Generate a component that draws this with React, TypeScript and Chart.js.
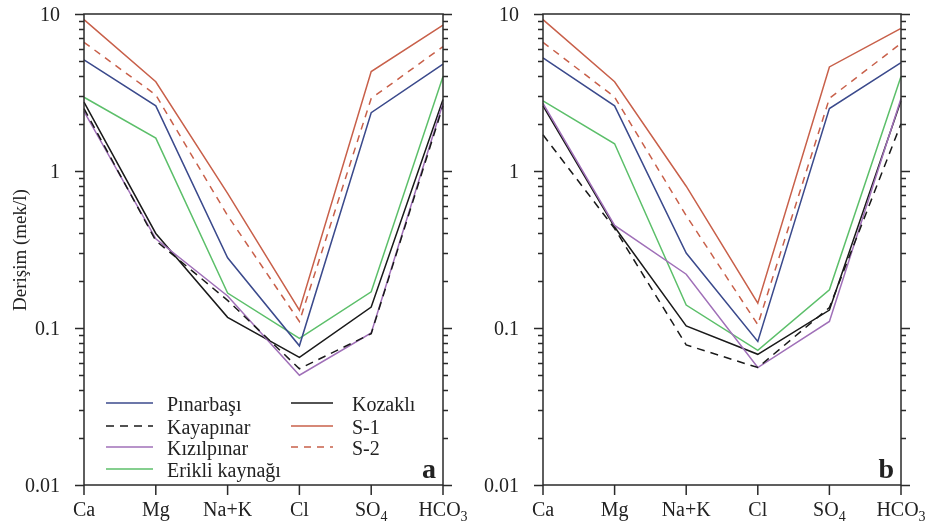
import React, { useEffect, useRef, useState } from 'react';
import { Chart, registerables } from 'chart.js';

Chart.register(...registerables);

const FONT = "'Liberation Serif', serif";

// Categories (ions) and their printed labels (main part + subscript)
const categories = ['Ca', 'Mg', 'Na+K', 'Cl', 'SO4', 'HCO3'];
const labelMain = ['Ca', 'Mg', 'Na+K', 'Cl', 'SO', 'HCO'];
const labelSub = ['', '', '', '', '4', '3'];

// Y ticks (log scale decades)
const yTicks = [0.01, 0.1, 1, 10];
const yTickLabels = ['0.01', '0.1', '1', '10'];

// Series names
const seriesNames = ['Pınarbaşı', 'Kayapınar', 'Kızılpınar', 'Erikli kaynağı', 'Kozaklı', 'S-1', 'S-2'];

// Panel a values (mek/l)
const pinarbasiA = [5.1, 2.6, 0.28, 0.077, 2.35, 4.8];
const kayapinarA = [2.5, 0.36, 0.15, 0.055, 0.092, 2.6];
const kizilpinarA = [2.4, 0.37, 0.16, 0.05, 0.093, 2.7];
const erikliA = [2.95, 1.62, 0.167, 0.086, 0.17, 4.0];
const kozakliA = [2.75, 0.4, 0.117, 0.065, 0.136, 2.85];
const s1A = [9.2, 3.7, 0.72, 0.13, 4.3, 8.5];
const s2A = [6.6, 3.05, 0.52, 0.11, 2.9, 6.2];

// Panel b values (mek/l)
const pinarbasiB = [5.25, 2.6, 0.3, 0.082, 2.5, 4.9];
const kayapinarB = [1.7, 0.43, 0.078, 0.056, 0.135, 2.0];
const kizilpinarB = [2.7, 0.45, 0.22, 0.056, 0.11, 2.9];
const erikliB = [2.8, 1.49, 0.14, 0.072, 0.175, 4.0];
const kozakliB = [2.6, 0.44, 0.103, 0.068, 0.13, 2.8];
const s1B = [9.2, 3.7, 0.8, 0.144, 4.6, 8.1];
const s2B = [6.6, 2.96, 0.52, 0.105, 2.9, 6.5];

const seriesColors = ['#3b4a8c', '#1a1a1a', '#a070b8', '#5cbf6a', '#1a1a1a', '#c8604a', '#c8604a'];
const seriesDash: number[][] = [[], [8, 6], [], [], [], [], [7, 6]];

const legendCol1 = [0, 1, 2, 3];
const legendCol2 = [4, 5, 6];
const legendRows = [403, 426, 447, 469];

function makePlugin(letter: string, showLegend: boolean) {
  return {
    id: 'frame-' + letter,
    afterDraw(chart: any) {
      const { ctx, chartArea } = chart;
      const { left, right, top, bottom } = chartArea;
      const x = chart.scales.x;
      const y = chart.scales.y;
      ctx.save();
      ctx.strokeStyle = '#2a2a2a';
      ctx.lineWidth = 1.5;
      ctx.setLineDash([]);
      ctx.strokeRect(left, top, right - left, bottom - top);
      ctx.beginPath();
      const maxV = yTicks[yTicks.length - 1];
      for (const d of yTicks) {
        for (let m = 1; m <= 9; m++) {
          const v = d * m;
          if (v > maxV * 1.0001) break;
          const py = Math.round(y.getPixelForValue(v)) + 0.5;
          const len = m === 1 ? 9 : 5;
          ctx.moveTo(left - len, py);
          ctx.lineTo(left, py);
          ctx.moveTo(right, py);
          ctx.lineTo(right + len, py);
        }
      }
      categories.forEach((_, i) => {
        const px = x.getPixelForValue(i);
        ctx.moveTo(px, bottom);
        ctx.lineTo(px, bottom + 10);
      });
      ctx.stroke();

      if (showLegend) {
        const drawEntry = (idx: number, row: number, x1: number, x2: number) => {
          const ry = legendRows[row];
          ctx.strokeStyle = seriesColors[idx];
          ctx.lineWidth = 1.5;
          ctx.setLineDash(seriesDash[idx]);
          ctx.beginPath();
          ctx.moveTo(x1, ry);
          ctx.lineTo(x2, ry);
          ctx.stroke();
        };
        legendCol1.forEach((idx, r) => drawEntry(idx, r, 106, 153));
        legendCol2.forEach((idx, r) => drawEntry(idx, r, 291, 333));
      }
      ctx.restore();
    },
  };
}

type Pos = { yPix: number[]; xPix: number[]; left: number; right: number; top: number; bottom: number };

function Panel(props: {
  letter: string;
  data: number[][];
  width: number;
  yAxisWidth: number;
  rightPad: number;
  showTitle: boolean;
  showLegend: boolean;
  left: number;
}) {
  const ref = useRef<HTMLCanvasElement | null>(null);
  const [pos, setPos] = useState<Pos | null>(null);
  useEffect(() => {
    if (!ref.current) return;
    const chart = new Chart(ref.current, {
      type: 'line',
      data: {
        labels: categories,
        datasets: props.data.map((d, i) => ({
          label: seriesNames[i],
          data: d,
          borderColor: seriesColors[i],
          borderWidth: 1.5,
          borderDash: seriesDash[i],
          pointRadius: 0,
          fill: false,
          tension: 0,
        })),
      },
      options: {
        animation: false,
        responsive: false,
        devicePixelRatio: 1,
        layout: { padding: { top: 14, right: props.rightPad, left: 0, bottom: 0 } },
        plugins: { legend: { display: false }, tooltip: { enabled: false } },
        scales: {
          x: {
            type: 'category',
            offset: false,
            grid: { display: false, drawTicks: false },
            border: { display: false },
            ticks: { display: false },
            afterFit: (s: any) => {
              s.height = 44;
            },
          },
          y: {
            type: 'logarithmic',
            min: 0.01,
            max: 10,
            grid: { display: false, drawTicks: false, tickLength: 0 },
            border: { display: false },
            ticks: { display: false },
            afterFit: (s: any) => {
              s.width = props.yAxisWidth;
            },
          },
        },
      } as any,
      plugins: [makePlugin(props.letter, props.showLegend)],
    });
    const ca = chart.chartArea;
    const xs: any = chart.scales.x;
    const ys: any = chart.scales.y;
    setPos({
      yPix: yTicks.map((v) => ys.getPixelForValue(v)),
      xPix: categories.map((_, i) => xs.getPixelForValue(i)),
      left: ca.left,
      right: ca.right,
      top: ca.top,
      bottom: ca.bottom,
    });
    return () => chart.destroy();
  }, []);

  const L = props.left;
  const text: React.CSSProperties = {
    position: 'absolute',
    fontFamily: FONT,
    fontSize: 20,
    lineHeight: '20px',
    color: '#222',
    whiteSpace: 'nowrap',
  };
  return (
    <>
      <canvas
        ref={ref}
        width={props.width}
        height={529}
        style={{ position: 'absolute', left: L, top: 0, width: props.width, height: 529 }}
      />
      {pos && (
        <>
          {yTickLabels.map((t, i) => (
            <div
              key={'y' + i}
              style={{ ...text, left: L + pos.left - 24 - 100, width: 100, textAlign: 'right', top: pos.yPix[i] - 10 }}
            >
              {t}
            </div>
          ))}
          {labelMain.map((t, i) => (
            <div
              key={'x' + i}
              style={{ ...text, left: L + pos.xPix[i] - 60, width: 120, textAlign: 'center', top: pos.bottom + 14 }}
            >
              {t}
              {labelSub[i] && (
                <span style={{ fontSize: 14, position: 'relative', top: 5 }}>{labelSub[i]}</span>
              )}
            </div>
          ))}
          {props.showTitle && (
            <div
              style={{
                ...text,
                fontSize: 19,
                lineHeight: '22px',
                width: 220,
                height: 22,
                textAlign: 'center',
                left: L + 20 - 110,
                top: (pos.top + pos.bottom) / 2 - 11,
                transform: 'rotate(-90deg)',
                transformOrigin: '50% 50%',
              }}
            >
              Derişim (mek/l)
            </div>
          )}
          <div
            style={{
              ...text,
              fontSize: 28,
              lineHeight: '28px',
              fontWeight: 'bold',
              left: L + pos.right - 7 - 60,
              width: 60,
              textAlign: 'right',
              top: pos.bottom - 7 - 23.5,
            }}
          >
            {props.letter}
          </div>
          {props.showLegend &&
            legendCol1.map((idx, r) => (
              <div key={'l1' + r} style={{ ...text, left: L + 167, top: legendRows[r] - 9 }}>
                {seriesNames[idx]}
              </div>
            ))}
          {props.showLegend &&
            legendCol2.map((idx, r) => (
              <div key={'l2' + r} style={{ ...text, left: L + 352, top: legendRows[r] - 9 }}>
                {seriesNames[idx]}
              </div>
            ))}
        </>
      )}
    </>
  );
}

export default function App() {
  const dataA = [pinarbasiA, kayapinarA, kizilpinarA, erikliA, kozakliA, s1A, s2A];
  const dataB = [pinarbasiB, kayapinarB, kizilpinarB, erikliB, kozakliB, s1B, s2B];
  return (
    <div style={{ position: 'fixed', left: 0, top: 0, width: 930, height: 529, background: '#fff' }}>
      <Panel letter="a" data={dataA} width={480} yAxisWidth={84} rightPad={37} showTitle={true} showLegend={true} left={0} />
      <Panel letter="b" data={dataB} width={465} yAxisWidth={78} rightPad={29} showTitle={false} showLegend={false} left={465} />
    </div>
  );
}
